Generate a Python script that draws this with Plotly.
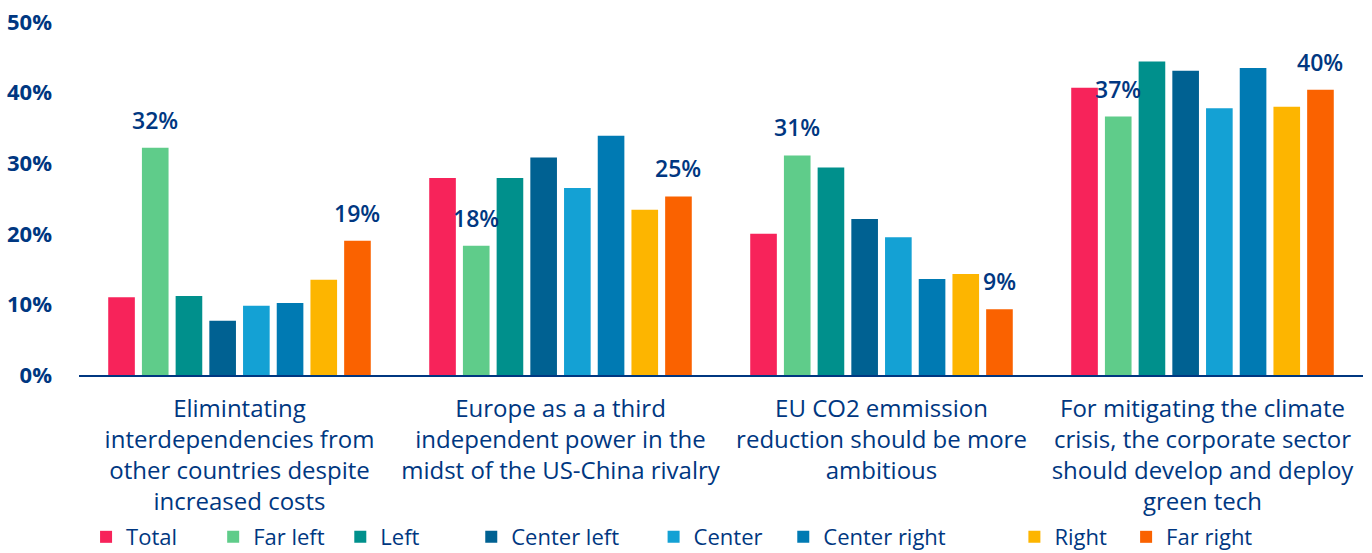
import plotly.graph_objects as go

categories = [
    "Elimintating<br>interdependencies from<br>other countries despite<br>increased costs",
    "Europe as a a third<br>independent power in the<br>midst of the US-China rivalry",
    "EU CO2 emmission<br>reduction should be more<br>ambitious",
    "For mitigating the climate<br>crisis, the corporate sector<br>should develop and deploy<br>green tech",
]
series_names = ["Total", "Far left", "Left", "Center left", "Center", "Center right", "Right", "Far right"]

total = [11.0, 27.9, 20.0, 40.7]
far_left = [32.2, 18.3, 31.1, 36.6]
left = [11.2, 27.9, 29.4, 44.4]
center_left = [7.7, 30.8, 22.1, 43.1]
center = [9.8, 26.5, 19.5, 37.8]
center_right = [10.2, 33.9, 13.6, 43.5]
right = [13.5, 23.4, 14.3, 38.0]
far_right = [19.0, 25.3, 9.3, 40.4]

labelled_series = ["Far left", "Far right"]

values = [total, far_left, left, center_left, center, center_right, right, far_right]
colors = ["#F7235A", "#5FCC8A", "#00908C", "#006192", "#14A1D4", "#007AB3", "#FDB500", "#FA6200"]

# horizontal placement (paper fraction) of each legend entry
legend_x = [0.0055, 0.1045, 0.2035, 0.3055, 0.4475, 0.5485, 0.7285, 0.8155]

BLUE = "#003781"
FONT = "Open Sans"
bargap = 0.16
bargroupgap = 0.21

fig = go.Figure()
for k, (name, vals, col) in enumerate(zip(series_names, values, colors)):
    fig.add_trace(go.Bar(
        name=name, x=list(range(len(categories))), y=vals,
        marker=dict(color=col, line=dict(width=0)),
        legend="legend" if k == 0 else f"legend{k + 1}",
    ))

n = len(series_names)
slot = (1 - bargap) / n
annotations = []
for i, (name, vals) in enumerate(zip(series_names, values)):
    if name not in labelled_series:
        continue
    off = -(1 - bargap) / 2 + (i + 0.5) * slot
    for j, v in enumerate(vals):
        annotations.append(dict(
            x=j + off, y=v, xref="x", yref="y", text=f"{round(v)}%",
            showarrow=False, yanchor="middle", yshift=28,
            font=dict(family=FONT, size=23, color=BLUE, weight=600),
        ))

legend_style = dict(
    orientation="h", xanchor="left", y=-0.459, yanchor="middle",
    font=dict(family=FONT, size=22, color=BLUE, weight=500),
    itemwidth=30, tracegroupgap=0, bgcolor="rgba(0,0,0,0)",
)
legends = {}
for k, lx in enumerate(legend_x):
    key = "legend" if k == 0 else f"legend{k + 1}"
    legends[key] = dict(legend_style, x=lx)

fig.update_layout(
    barmode="group", bargap=bargap, bargroupgap=bargroupgap,
    width=1372, height=553,
    margin=dict(l=79, r=9, t=22, b=178, autoexpand=False),
    paper_bgcolor="white", plot_bgcolor="white",
    font=dict(family=FONT, color=BLUE),
    annotations=annotations,
    showlegend=True,
    xaxis=dict(
        tickmode="array", tickvals=list(range(len(categories))), ticktext=categories,
        range=[-0.5, len(categories) - 0.5], automargin=False,
        showline=True, linecolor=BLUE, linewidth=2, ticks="", showgrid=False,
        tickfont=dict(family=FONT, size=24, color=BLUE, weight=500),
        ticklabelstandoff=11, zeroline=False, ticklabeloverflow="allow",
    ),
    yaxis=dict(
        range=[0, 50], dtick=10, ticksuffix="%", showgrid=False, zeroline=False,
        showline=False, ticks="", automargin=False, ticklabeloverflow="allow",
        tickfont=dict(family=FONT, size=22, color=BLUE, weight="bold"),
        ticklabelstandoff=26,
    ),
    **legends,
)

# remove the default 8px page margin so the figure fills the window exactly
fig.write_html(
    "out.html",
    config={"displayModeBar": False},
    post_script="document.body.style.margin='0';",
)
